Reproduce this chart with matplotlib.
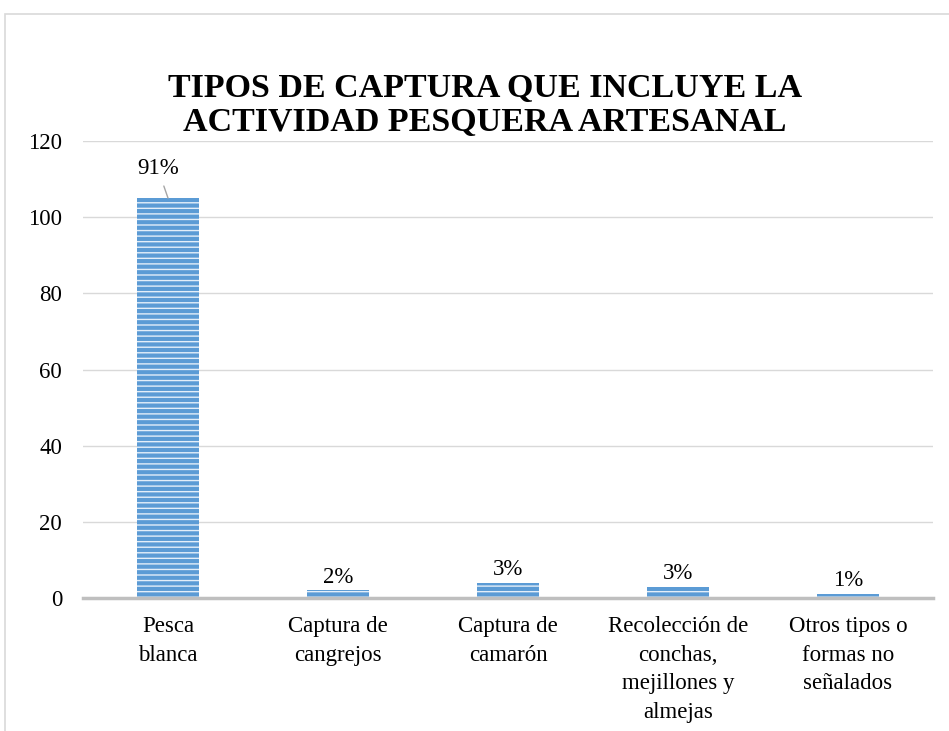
import matplotlib.pyplot as plt
from matplotlib.patches import Rectangle

categorias = ["Pesca\nblanca", "Captura de\ncangrejos", "Captura de\ncamarón",
              "Recolección de\nconchas,\nmejillones y\nalmejas",
              "Otros tipos o\nformas no\nseñalados"]
valores = [105, 2, 4, 3, 1]
etiquetas = ["91%", "2%", "3%", "3%", "1%"]
titulo = "TIPOS DE CAPTURA QUE INCLUYE LA\nACTIVIDAD PESQUERA ARTESANAL"

plt.rcParams['font.family'] = ['Liberation Serif', 'DejaVu Serif']
plt.rcParams['hatch.linewidth'] = 1.0

fig = plt.figure(figsize=(9.49, 7.31), dpi=100)
ax = fig.add_axes([0.0875, 0.1819, 0.8957, 0.6252])

x = list(range(len(valores)))
ax.bar(x, valores, width=0.365, color="#5B9BD5", edgecolor="#E3EEF9",
       linewidth=0, hatch="---", zorder=2)

ax.set_xlim(-0.5, len(valores) - 0.5)
ax.set_ylim(0, 120)
ax.set_yticks(range(0, 121, 20))
ax.set_xticks(x)
ax.set_xticklabels(categorias, fontsize=16.5, linespacing=1.47)
ax.tick_params(axis='y', labelsize=16.5, length=0, pad=15)
ax.tick_params(axis='x', length=0, pad=13)
ax.grid(axis='y', color="#D9D9D9", linewidth=1, zorder=0)
for s in ["top", "right", "left"]:
    ax.spines[s].set_visible(False)
ax.spines["bottom"].set_color("#BFBFBF")
ax.spines["bottom"].set_linewidth(2.5)
ax.spines["bottom"].set_zorder(3)

for i, (v, t) in enumerate(zip(valores, etiquetas)):
    if i == 0:
        ax.annotate(t, xy=(i, v), xytext=(i - 0.06, v + 7.7), ha="center",
                    va="center", fontsize=16.5,
                    arrowprops=dict(arrowstyle="-", color="#A6A6A6", lw=1,
                                    shrinkA=3, shrinkB=0))
    else:
        ax.annotate(t, xy=(i, v), xytext=(0, 2), textcoords="offset points",
                    ha="center", va="bottom", fontsize=16.5)

fig.text(0.511, 0.856, titulo, ha="center", va="center", fontsize=24.5,
         fontweight="bold", linespacing=1.12)

fig.patches.append(Rectangle((5 / 949, -0.1), 1.2, 1 - 14 / 731 + 0.1,
                             transform=fig.transFigure, fill=False,
                             edgecolor="#D9D9D9", linewidth=1.2))

fig.savefig("out.png", dpi=100)
